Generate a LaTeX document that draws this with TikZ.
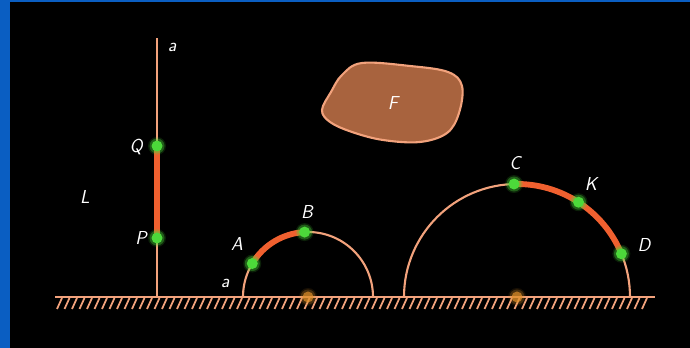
\documentclass[tikz,border=0pt]{standalone}
\usepackage{tikz}
\usetikzlibrary{positioning}
\definecolor{slide}{HTML}{0A5EC2}
\definecolor{wire}{HTML}{F2A27C}
\definecolor{hot}{HTML}{F0602F}
\definecolor{spot}{HTML}{4CD93A}
\definecolor{mid}{HTML}{E0902A}
\definecolor{rock}{HTML}{A8633E}
\tikzset{
  lbl/.style={text=white, inner sep=0pt, font=\fontsize{16}{19}\selectfont\sffamily\slshape},
  wireline/.style={draw=wire, line width=1.8pt},
  hotline/.style={draw=hot, line width=5pt},
}
\newcommand{\glowat}[3]{%
  \foreach \r/\o in {9/0.15,7.5/0.35,5.5/1}
    \fill[#2, opacity=#3*\o] (#1) circle (\r);}

\begin{document}
\begin{tikzpicture}[x=0.03cm, y=0.03cm]
      \fill[slide] (0,0) rectangle (690,348);
      \fill[black] (10,0) rectangle (690,346);

      % ground
      \coordinate (g1) at (55,51);
      \coordinate (g2) at (655,51);
      \foreach \x in {62,69.5,...,652}
        \draw[wire, line width=1.5pt] (\x,50) -- ++(-5,-11);
      \draw[wireline] (g1) -- (g2);

      % the line
      \coordinate (foot) at (157,51);
      \coordinate (top) at (157,310);
      \coordinate (Q) at (157,202);
      \coordinate (P) at (157,110);
      \draw[wireline] (foot) -- (top);
      \draw[hotline] (P) -- (Q);

      % small half circle
      \coordinate (O1) at (308,51);
      \path (O1) ++(149:65) coordinate (A);
      \path (O1) ++(93:65) coordinate (B);
      \draw[wireline] (243,51) arc (180:0:65);
      \draw[hotline] (A) arc (149:93:65);

      % big half circle
      \coordinate (O2) at (517,51);
      \path (O2) ++(91.5:113) coordinate (C);
      \path (O2) ++(57:113) coordinate (K);
      \path (O2) ++(22.5:113) coordinate (D);
      \draw[wireline] (404,51) arc (180:0:113);
      \draw[hotline] (C) arc (91.5:22.5:113);

      % the figure F
      \draw[wireline, fill=rock] plot[smooth cycle, tension=0.6] coordinates {
        (342,273) (362,285) (410,282) (448,276) (462,262) (459,235)
        (447,215) (420,206) (383,208) (352,216) (330,226) (322,238) (331,256)};

      % points
      \foreach \p in {Q,P,A,B,C,K,D} {\glowat{\p}{spot}{1}}
      \glowat{O1}{mid}{0.7}
      \glowat{O2}{mid}{0.7}

      % labels
      \node[lbl] (la1) at (172,301) {a};
      \node[lbl] (lQ) at (136,201) {Q};
      \node[lbl] (lP) at (141,110) {P};
      \node[lbl] (lL) at (85,151) {L};
      \node[lbl] (lA) at (237,104) {A};
      \node[lbl] (lB) at (307,136) {B};
      \node[lbl] (la2) at (225,65) {a};
      \node[lbl] (lC) at (515,185) {C};
      \node[lbl] (lK) at (591,164) {K};
      \node[lbl] (lD) at (644,103) {D};
      \node[lbl] (lF) at (393,245) {F};
    \end{tikzpicture}
\end{document}
